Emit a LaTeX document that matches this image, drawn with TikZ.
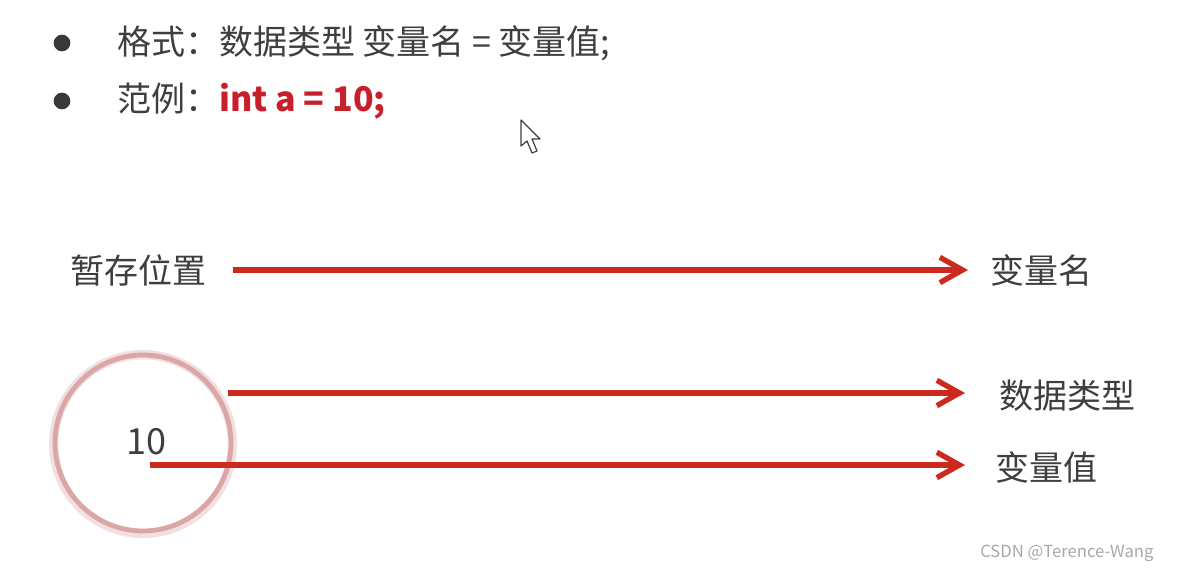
\documentclass[tikz,border=0pt]{standalone}
\usepackage{fontspec}
\setmainfont{Noto Sans CJK SC}
\usetikzlibrary{arrows.meta}
\definecolor{txtgray}{HTML}{3E3E3E}
\definecolor{redarrow}{HTML}{CC2A1E}
\definecolor{redcode}{HTML}{C8202A}
\definecolor{ringpink}{HTML}{DBA6A6}
\definecolor{ringshadow}{HTML}{F2E0E0}
\definecolor{wmgray}{HTML}{A8A8A8}
\tikzset{
  txt/.style={inner sep=0pt, anchor=west, text=txtgray, font=\fontsize{25.5}{30}\selectfont},
  bulletdot/.style={circle, fill=txtgray!90!black, inner sep=0pt, minimum size=12.5pt},
  redarr/.style={draw=redarrow, line width=4pt, -{Straight Barb[length=17pt,width=19pt]}},
  ring/.style={circle, draw=ringpink, line width=3.6pt, minimum size=132pt, inner sep=0pt},
  ringsh/.style={circle, draw=ringshadow, line width=7pt, minimum size=134pt, inner sep=0pt},
}
\begin{document}
\begin{tikzpicture}[x=0.75pt,y=-0.75pt]
\useasboundingbox (0,0) rectangle (1184,573);
% bullets
\node[bulletdot] (b1) at (62,43) {};
\node[bulletdot] (b2) at (62,101) {};
\node[txt] (l1) at (117,43) {格式：数据类型 变量名 = 变量值;};
\node[txt] (l2) at (117,101) {范例：\textcolor{redcode}{\bfseries int a = 10;}};
% cursor
\draw[fill=white, draw=txtgray, line width=0.9pt, line join=round]
  (521,120) -- (521,146) -- (527,141) -- (532,153) -- (537,151) -- (532,139) -- (540,139) -- cycle;
% row 1
\node[txt] (zc) at (70,270) {暂存位置};
\node[txt] (bln) at (990,270) {变量名};
\coordinate (a1s) at (233,270);
\coordinate (a1e) at (968,270);
\draw[redarr] (a1s) -- (a1e);
% circle
\node[ringsh] (cirsh) at (143,444) {};
\node[ring] (cir) at (143,443) {};
\node[txt, anchor=center, font=\fontsize{27}{30}\selectfont] (ten) at (146,442) {10};
% row 2
\node[txt] (sjlx) at (999,396) {数据类型};
\coordinate (a2s) at (228,393);
\coordinate (a2e) at (965,393);
\draw[redarr] (a2s) -- (a2e);
% row 3
\node[txt] (blz) at (995,467) {变量值};
\coordinate (a3s) at (150,465);
\coordinate (a3e) at (965,465);
\draw[redarr] (a3s) -- (a3e);
% watermark
\node[inner sep=0pt, anchor=west, text=wmgray, font=\fontsize{12.5}{14}\selectfont] (wm) at (980,553) {CSDN @Terence-Wang};
\end{tikzpicture}
\end{document}
